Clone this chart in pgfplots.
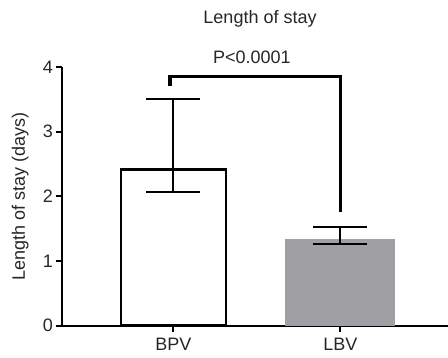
\documentclass[border=0pt]{standalone}
\usepackage{fontspec}
\setmainfont{Liberation Sans}
\usepackage{pgfplots}
\pgfplotsset{compat=1.18}
\definecolor{barGray}{RGB}{160,159,164}
\begin{document}
\fontsize{18}{21}\selectfont
\begin{tikzpicture}
\useasboundingbox (0,0) rectangle (448pt,358pt);
\begin{axis}[
  at={(62pt,32.3pt)}, anchor=south west,
  scale only axis, width=386pt, height=258.7pt,
  xmin=-0.668, xmax=1.645, ymin=0, ymax=4,
  axis x line=bottom, axis y line=left,
  axis line style={-, line width=2.2pt, black},
  tick align=outside, major tick length=6pt,
  tick style={black, line width=2pt},
  ytick={0,1,2,3,4}, xtick={0,1}, xticklabels={BPV,LBV},
  /pgf/number format/assume math mode=true,
  ticklabel style={font=\fontsize{18}{21}\selectfont, text=black!85},
  yticklabel style={xshift=3pt},
  title={Length of stay},
  title style={at={(0.513,1)}, anchor=base, yshift=37pt, font=\fontsize{18}{21}\selectfont, text=black!85},
  ylabel={Length of stay (days)},
  ylabel style={at={(axis description cs:-0.108,0.5)}, anchor=center, font=\fontsize{18}{21}\selectfont, text=black!85},
  clip=false,
]
\addplot[ybar, bar width=105pt, bar shift=0pt, draw=black, line width=2.8pt, fill=white] coordinates {(0,2.42)};
\addplot[ybar, bar width=110pt, bar shift=0pt, draw=none, fill=barGray] coordinates {(1,1.335)};
\addplot[draw=none, mark=none, error bars/.cd, y dir=both, y explicit, error mark=|,
  error bar style={draw=black, line width=2pt},
  error mark options={draw=black, line width=2pt, mark size=27pt}]
  coordinates {(0,2.42) += (0,1.08) -= (0,0.35)
               (1,1.335) += (0,0.185) -= (0,0.065)};
\addplot[black, line width=3.5pt, line join=miter, mark=none] coordinates {(-0.02,3.70) (-0.02,3.85) (1,3.85) (1,1.76)};
\node[anchor=base, font=\fontsize{18}{21}\selectfont, text=black!85] at (axis cs:0.47,4.06) {P<0.0001};
\end{axis}
\end{tikzpicture}
\end{document}
